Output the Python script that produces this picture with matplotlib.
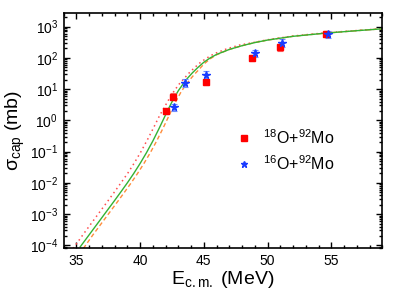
import matplotlib
matplotlib.use('Agg')
import matplotlib.pyplot as plt
from matplotlib.ticker import LogLocator, MultipleLocator, FixedLocator, NullFormatter

plt.rcParams.update({'font.family': ['Liberation Sans', 'DejaVu Sans'],
                     'mathtext.fontset': 'custom', 'mathtext.rm': 'Liberation Sans',
                     'mathtext.it': 'Liberation Sans', 'mathtext.default': 'regular'})

# experimental data
e_o18 = [42.05, 42.6, 45.2, 48.8, 50.95, 54.55]
s_o18 = [2.0, 5.8, 17, 100, 218, 590]
e_o16 = [42.65, 43.55, 45.2, 48.98, 51.15, 54.7]
s_o16 = [2.6, 16, 29, 138, 300, 560]

# theory curves: energy and log10(sigma)
e_solid = [35.3, 36.0, 37.0, 38.0, 38.5, 39.0, 39.5, 40.0, 40.5, 41.0, 41.5, 41.85,
           42.2, 42.6, 43.0, 43.4, 43.7, 44.1, 44.5, 45.0, 45.5, 46.0, 47.0, 48.0, 49.0,
           50.0, 52.0, 54.5, 57.0, 59.0]
l_solid = [-4.05, -3.665, -3.115, -2.565, -2.285, -2.0, -1.7, -1.38, -1.035, -0.66, -0.25, 0.05,
           0.35, 0.67, 0.95, 1.18, 1.34, 1.52, 1.68, 1.86, 2.0, 2.11, 2.27, 2.39, 2.49,
           2.57, 2.69, 2.79, 2.87, 2.93]
e_dot = [34.75, 35.5, 36.5, 37.5, 38.0, 38.5, 39.05, 39.55, 40.07, 40.6, 41.1, 41.5,
         41.9, 42.3, 42.7, 43.1, 43.45, 43.85, 44.25, 44.75, 45.25, 45.8, 46.8, 47.8, 49.0,
         50.0, 52.0, 54.5, 57.0, 59.0]
l_dot = [-4.1, -3.67, -3.115, -2.565, -2.285, -2.0, -1.68, -1.36, -1.0, -0.6, -0.2, 0.13,
         0.42, 0.7, 0.96, 1.18, 1.34, 1.52, 1.68, 1.86, 2.0, 2.13, 2.29, 2.41, 2.5,
         2.58, 2.7, 2.8, 2.875, 2.935]
e_dash = [35.55, 36.3, 37.3, 38.3, 38.8, 39.3, 39.8, 40.3, 40.8, 41.3, 41.8, 42.15,
          42.5, 42.85, 43.2, 43.55, 43.9, 44.25, 44.6, 45.0, 45.5, 46.0, 47.0, 48.0, 49.0,
          50.0, 52.0, 54.5, 57.0, 59.0]
l_dash = [-4.1, -3.665, -3.115, -2.565, -2.285, -2.0, -1.7, -1.38, -1.035, -0.66, -0.25, 0.05,
          0.35, 0.64, 0.9, 1.12, 1.3, 1.47, 1.62, 1.8, 1.97, 2.1, 2.27, 2.39, 2.49,
          2.57, 2.69, 2.79, 2.87, 2.93]

fig = plt.figure(figsize=(3.95, 2.99), dpi=100)
ax = fig.add_axes([0.161, 0.169, 0.807, 0.789])

ax.plot(e_dot, [10 ** v for v in l_dot], ls=(0, (1, 2.2)), color='#ff4d4d', lw=1.1)
ax.plot(e_dash, [10 ** v for v in l_dash], ls=(0, (3, 2)), color='#ff8c3a', lw=1.0)
ax.plot(e_solid, [10 ** v for v in l_solid], ls='-', color='#33b233', lw=1.0)

ax.errorbar(e_o18, s_o18, yerr=[[s * 0.22 for s in s_o18], [s * 0.25 for s in s_o18]],
            fmt='none', ecolor='#ff6666', elinewidth=0.8, capsize=2.2, capthick=0.8)
ax.errorbar(e_o16, s_o16, yerr=[[s * 0.25 for s in s_o16], [s * 0.3 for s in s_o16]],
            fmt='none', ecolor='#6f8fff', elinewidth=0.8, capsize=2.2, capthick=0.8)
ax.plot(e_o18, s_o18, 's', color='#ff0000', ms=4.5, mec='#ff0000', ls='none',
        label=r'$^{18}$O+$^{92}$Mo')
ax.plot(e_o16, s_o16, '*', color='#1a3cff', ms=5.5, mec='#1a3cff', ls='none',
        label=r'$^{16}$O+$^{92}$Mo')

ax.set_yscale('log')
ax.set_xlim(34, 59)
ax.set_ylim(10 ** -4.1, 10 ** 3.45)
ax.xaxis.set_major_locator(MultipleLocator(5))
ax.xaxis.set_minor_locator(MultipleLocator(1))
ax.yaxis.set_major_locator(FixedLocator([1e-4, 1e-3, 1e-2, 1e-1, 1, 10, 100, 1000]))
ax.yaxis.set_minor_locator(LogLocator(base=10, subs=range(2, 10), numticks=20))
ax.yaxis.set_minor_formatter(NullFormatter())
ax.tick_params(which='both', direction='in', top=True, right=True, labelsize=10, width=1)
ax.tick_params(which='major', length=4.5, pad=4)
ax.tick_params(which='minor', length=2.5)
for sp in ax.spines.values():
    sp.set_linewidth(1.2)

ax.set_xlabel(r'E$_{\rm c.m.}$ (MeV)', fontsize=14, labelpad=1)
ax.set_ylabel(r'$\sigma_{\rm cap}$ (mb)', fontsize=14, labelpad=2)

ax.legend(loc='center left', bbox_to_anchor=(0.49, 0.415), frameon=False, fontsize=11.5,
          handlelength=1.2, handletextpad=0.6, labelspacing=0.45, markerscale=0.9)

fig.savefig('out.png', dpi=100)
